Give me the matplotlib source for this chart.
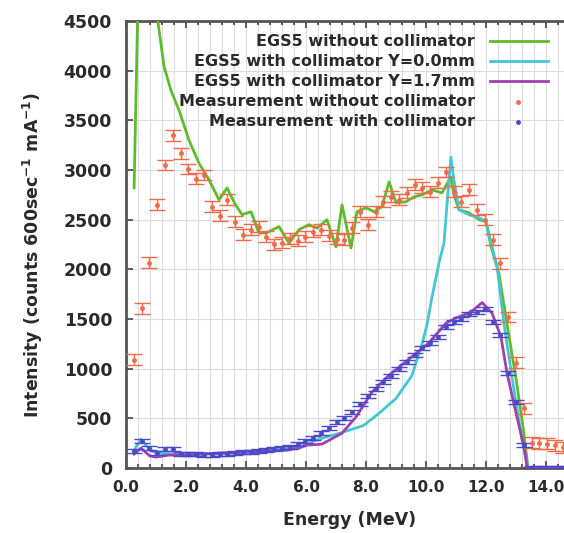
import numpy as np
import matplotlib
matplotlib.use("Agg")
import matplotlib.pyplot as plt
from matplotlib.ticker import MultipleLocator, FormatStrFormatter

plt.rcParams['font.family'] = ['DejaVu Sans']
plt.rcParams['font.weight'] = 'bold'
plt.rcParams['axes.labelweight'] = 'bold'
plt.rcParams['mathtext.fontset'] = 'custom'
plt.rcParams['mathtext.rm'] = 'DejaVu Sans:bold'
plt.rcParams['mathtext.default'] = 'rm'

# EGS5 simulations (MeV, counts)
egs_free_e = [0.27, 0.50, 0.80, 1.07, 1.27, 1.50, 1.77, 2.10, 2.43, 2.77, 3.10, 3.37,
              3.63, 3.87, 4.17, 4.43, 4.67, 5.10, 5.43, 5.77, 6.10, 6.37, 6.70, 7.00,
              7.20, 7.50, 7.70, 8.00, 8.27, 8.53, 8.77, 9.00, 9.33, 9.60, 9.87, 10.20,
              10.53, 10.83, 10.93, 11.10, 11.43, 11.77, 12.00, 12.17, 12.43, 12.70,
              13.00, 13.25, 13.40, 14.60]
egs_free_i = [2820, 6200, 5400, 4480, 4040, 3800, 3600, 3300, 3070, 2900, 2700, 2820,
              2660, 2550, 2580, 2365, 2365, 2430, 2265, 2400, 2450, 2415, 2500, 2225,
              2650, 2215, 2580, 2620, 2580, 2630, 2880, 2670, 2680, 2730, 2750, 2800,
              2770, 2930, 2750, 2600, 2570, 2500, 2480, 2225, 1960, 1450,
              900, 380, 0, 0]

egs_y00_e = [0.27, 0.50, 0.75, 1.00, 1.50, 2.00, 3.00, 4.00, 5.00, 5.77, 6.43, 7.00,
             7.43, 7.93, 8.43, 9.00, 9.53, 9.87, 10.03, 10.20, 10.43, 10.60, 10.72,
             10.83, 10.93, 11.10, 11.43, 11.77, 12.00, 12.17, 12.37, 12.60, 12.90,
             13.20, 13.40, 14.60]
egs_y00_i = [180, 290, 200, 150, 140, 140, 140, 160, 190, 210, 290, 340,
             380, 430, 550, 700, 930, 1250, 1440, 1720, 2060, 2265, 2730,
             3130, 2900, 2600, 2550, 2520, 2480, 2265, 2025, 1450, 850,
             280, 0, 0]

egs_y17_e = [0.27, 0.50, 0.80, 1.00, 1.43, 2.00, 3.10, 4.20, 5.33, 5.77, 6.00, 6.53,
             7.20, 7.67, 8.20, 8.77, 9.53, 10.10, 10.67, 11.00, 11.50, 11.87, 12.20,
             12.50, 12.70, 13.00, 13.27, 13.37, 14.60]
egs_y17_i = [140, 200, 120, 110, 130, 130, 150, 160, 180, 200, 230, 240,
             350, 515, 765, 935, 1120, 1260, 1460, 1510, 1570, 1665, 1560,
             1320, 955, 555, 210, 0, 0]

# measurements (MeV, counts)
meas_e = [0.26, 0.52, 0.78, 1.04, 1.30, 1.56, 1.82, 2.08, 2.34, 2.60, 2.86, 3.12,
          3.38, 3.64, 3.90, 4.16, 4.42, 4.68, 4.94, 5.20, 5.46, 5.72, 5.98, 6.24,
          6.50, 6.76, 7.02, 7.28, 7.54, 7.80, 8.06, 8.32, 8.58, 8.84, 9.10, 9.36,
          9.62, 9.88, 10.14, 10.40, 10.66, 10.92, 11.18, 11.44, 11.70, 11.96, 12.22,
          12.48, 12.74, 13.00, 13.26, 13.52, 13.78, 14.04, 14.30, 14.56]
meas_free = [1090, 1610, 2065, 2650, 3050, 3350, 3170, 3010, 2910, 2950, 2630, 2540,
             2700, 2480, 2350, 2400, 2430, 2330, 2250, 2270, 2310, 2290, 2330, 2380,
             2400, 2340, 2310, 2300, 2420, 2580, 2450, 2580, 2680, 2730, 2700, 2770,
             2850, 2820, 2780, 2870, 2980, 2780, 2680, 2800, 2600, 2500, 2300,
             2060, 1520, 1060, 600, 255, 250, 245, 230, 210]
meas_coll = [170, 270, 200, 150, 190, 190, 140, 140, 140, 130, 135, 140,
             145, 150, 160, 165, 170, 180, 190, 200, 210, 240, 270, 300,
             350, 400, 460, 500, 560, 640, 720, 800, 870, 930, 1000, 1070,
             1140, 1210, 1260, 1320, 1420, 1470, 1500, 1550, 1570, 1600, 1470,
             1340, 955, 665, 230, 0, 0, 0, 0, 0]

c_green = '#5dbb2e'
c_cyan = '#45c6d6'
c_purple = '#a23fb0'
c_red = '#f26a48'
c_blue = '#4a4ac8'
c_text = '#2a2a2a'

fig = plt.figure(figsize=(5.64, 5.33), dpi=100)
ax = fig.add_axes([126/564, 65/533, 450/564, 447/533])

ax.set_xlim(0, 15.0)
ax.set_ylim(0, 4500)
ax.xaxis.set_major_locator(MultipleLocator(2.0))
ax.xaxis.set_minor_locator(MultipleLocator(0.4))
ax.xaxis.set_major_formatter(FormatStrFormatter('%.1f'))
ax.yaxis.set_major_locator(MultipleLocator(500))
ax.tick_params(which='both', direction='in', top=True, right=True,
               colors='#444444', labelcolor=c_text, width=1.2)
ax.tick_params(which='major', length=5)
ax.tick_params(which='minor', length=3)
ax.tick_params(axis='x', pad=9, labelsize=11)
ax.tick_params(axis='y', pad=10, labelsize=12.5)
for s in ax.spines.values():
    s.set_color('#555555')
    s.set_linewidth(2.0)

ax.grid(True, which='major', axis='y', color='#dcdcdc', lw=0.8, zorder=0)
ax.grid(True, which='both', axis='x', color='#dcdcdc', lw=0.8, zorder=0)
ax.set_axisbelow(True)

# key background hides grid in the top band
ax.axhspan(3340, 4500, color='white', zorder=0.5)

ax.plot(egs_free_e, egs_free_i, color=c_green, lw=2.0, zorder=3)
ax.plot(egs_y00_e, egs_y00_i, color=c_cyan, lw=2.0, zorder=3)
ax.plot(egs_y17_e, egs_y17_i, color=c_purple, lw=2.0, zorder=4)
ax.errorbar(meas_e, meas_free, yerr=55, fmt='o', ms=2.5, color=c_red,
            ecolor=c_red, elinewidth=1.0, capsize=6, capthick=1.0, zorder=5)
ax.errorbar(meas_e, meas_coll, yerr=20, fmt='o', ms=2.5, color=c_blue,
            ecolor=c_blue, elinewidth=1.0, capsize=5.5, capthick=1.0, zorder=5)

# key: text right-aligned, samples on the right
labels = ['EGS5 without collimator', 'EGS5 with collimator Y=0.0mm',
          'EGS5 with collimator Y=1.7mm', 'Measurement without collimator',
          'Measurement with collimator']
colors = [c_green, c_cyan, c_purple, c_red, c_blue]
row_y = [41, 61, 81, 102, 122]
for lab, col, py, k in zip(labels, colors, row_y, range(5)):
    yy = 1 - (py - 21) / 447
    ax.text((475 - 126) / 450, yy, lab, transform=ax.transAxes, ha='right',
            va='center', fontsize=11.5, color=c_text, zorder=6)
    if k < 3:
        ax.plot([(490 - 126) / 450, (548 - 126) / 450], [yy, yy], transform=ax.transAxes,
                color=col, lw=2.0, zorder=6, clip_on=False)
    else:
        ax.plot([(518 - 126) / 450], [yy], 'o', ms=2.5, transform=ax.transAxes,
                color=col, zorder=6)

ax.set_xlabel('Energy (MeV)', fontsize=12.5, color=c_text)
ax.set_ylabel('Intensity (counts 600sec$^{-1}$ mA$^{-1}$)', fontsize=12.5,
              color=c_text)
ax.xaxis.set_label_coords((350 - 126) / 450, -(511 - 468) / 447)
ax.yaxis.set_label_coords(-(126 - 45) / 450, (468 - 255) / 447)

fig.savefig('out.png', dpi=100)
